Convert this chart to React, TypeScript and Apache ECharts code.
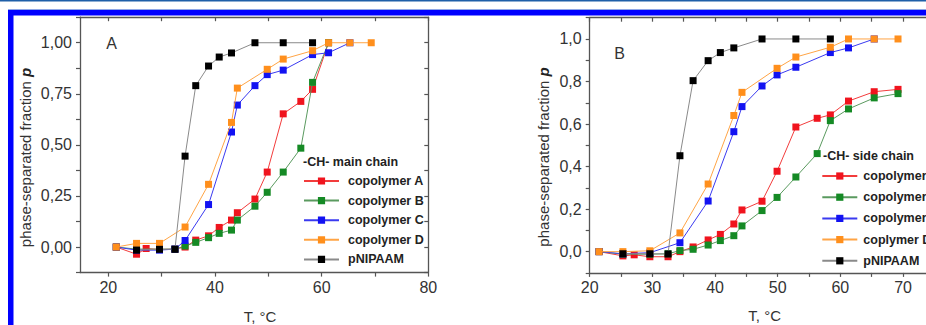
import React, { useEffect, useRef } from 'react';
import * as echarts from 'echarts';

// ---------- data ----------
const NAMES_A = ['copolymer A', 'copolymer B', 'copolymer C', 'copolymer D', 'pNIPAAM'];
const NAMES_B = ['copolymer A', 'copolymer B', 'copolymer C', 'coplymer D', 'pNIPAAM'];

// Panel A: -CH- main chain  [T (°C), p]
const A_copA: [number, number][] = [[21.5, 0], [25.3, -0.035], [27.1, -0.007], [29.6, -0.012], [32.5, -0.01], [34.4, 0.0], [36.4, 0.034], [38.8, 0.055], [40.8, 0.096], [43.1, 0.132], [44.2, 0.168], [47.5, 0.235], [49.8, 0.367], [52.8, 0.652], [56.1, 0.713], [58.3, 0.772], [61.3, 1.0]];
const A_copB: [number, number][] = [[21.5, 0], [25.3, -0.01], [29.6, -0.01], [32.5, -0.01], [34.4, 0.005], [36.4, 0.023], [38.8, 0.046], [40.8, 0.067], [43.1, 0.083], [44.2, 0.132], [47.5, 0.2], [49.8, 0.268], [52.8, 0.367], [56.1, 0.484], [58.3, 0.806], [61.3, 1.0]];
const A_copC: [number, number][] = [[21.5, 0], [25.3, -0.015], [29.6, -0.015], [32.5, -0.01], [34.4, 0.032], [38.8, 0.208], [43.1, 0.563], [44.2, 0.695], [47.5, 0.79], [49.8, 0.844], [52.8, 0.866], [58.3, 0.942], [61.3, 0.951], [65.3, 1.0]];
const A_copD: [number, number][] = [[21.5, 0], [25.3, 0.018], [29.6, 0.018], [34.4, 0.098], [38.8, 0.307], [43.1, 0.61], [44.2, 0.778], [49.8, 0.87], [52.8, 0.92], [58.3, 0.961], [61.3, 1.0], [65.3, 1.0], [69.3, 1.0]];
const A_pnipaam: [number, number][] = [[25.3, -0.015], [29.6, -0.011], [32.5, -0.011], [34.4, 0.445], [36.4, 0.79], [38.8, 0.886], [40.8, 0.93], [43.1, 0.95], [47.5, 1.0], [52.8, 1.0], [58.3, 1.0]];

// Panel B: -CH- side chain
const B_copA: [number, number][] = [[21.5, 0], [25.3, -0.02], [27.1, -0.015], [29.6, -0.024], [32.5, -0.024], [34.4, 0.0], [36.5, 0.022], [38.9, 0.055], [40.85, 0.081], [43.0, 0.13], [44.3, 0.196], [47.5, 0.237], [49.9, 0.378], [52.9, 0.586], [56.3, 0.627], [58.4, 0.643], [61.3, 0.708], [65.4, 0.752], [69.2, 0.763]];
const B_copB: [number, number][] = [[21.5, 0], [25.3, -0.012], [29.6, -0.012], [32.5, -0.01], [34.4, 0.005], [36.5, 0.011], [38.9, 0.031], [40.85, 0.052], [43.0, 0.075], [44.3, 0.121], [47.5, 0.193], [49.9, 0.255], [52.9, 0.351], [56.3, 0.461], [58.4, 0.616], [61.3, 0.671], [65.4, 0.723], [69.2, 0.743]];
const B_copC: [number, number][] = [[21.5, 0], [25.3, -0.01], [29.6, -0.005], [34.4, 0.042], [38.9, 0.238], [43.0, 0.564], [44.3, 0.682], [47.5, 0.779], [49.9, 0.831], [52.9, 0.867], [58.4, 0.936], [61.3, 0.958], [65.4, 1.0]];
const B_copD: [number, number][] = [[21.5, 0], [25.3, 0.0], [29.6, 0.004], [34.4, 0.088], [38.9, 0.318], [43.0, 0.64], [44.3, 0.749], [49.9, 0.862], [52.9, 0.915], [58.4, 0.961], [61.3, 1.0], [65.4, 1.0], [69.2, 1.0]];
const B_pnipaam: [number, number][] = [[25.3, -0.01], [29.6, -0.01], [32.5, -0.011], [34.4, 0.451], [36.5, 0.804], [38.9, 0.898], [40.85, 0.936], [43.0, 0.958], [47.5, 1.0], [52.9, 1.0], [58.4, 1.0]];

// ticks / labels
const A_X_LABELS = [20, 40, 60, 80];
const A_X_TICKS = [20, 30, 40, 50, 60, 70, 80];
const A_Y_LABELS = [0, 0.25, 0.5, 0.75, 1.0];
const A_Y_TICKS = [-0.125, 0, 0.125, 0.25, 0.375, 0.5, 0.625, 0.75, 0.875, 1.0, 1.125];
const B_X_LABELS = [20, 30, 40, 50, 60, 70];
const B_X_TICKS = [20, 25, 30, 35, 40, 45, 50, 55, 60, 65, 70, 75, 80];
const B_Y_LABELS = [0, 0.2, 0.4, 0.6, 0.8, 1.0];
const B_Y_TICKS = [-0.1, 0, 0.1, 0.2, 0.3, 0.4, 0.5, 0.6, 0.7, 0.8, 0.9, 1.0, 1.1];

const FONT = '"Liberation Sans", Arial, sans-serif';
const MARK = ['#f0141e', '#158a25', '#1212f2', '#ff8f1c', '#000000'];
const LINE = ['#f23c3c', '#5a9a5f', '#3a3af0', '#ffa445', '#8a8a8a'];
const AXIS_C = '#555';

function mkSeries(name: string, data: [number, number][], idx: number, axis: number) {
  return {
    type: 'line',
    name,
    data,
    xAxisIndex: axis,
    yAxisIndex: axis,
    symbol: 'rect',
    symbolSize: 7,
    showSymbol: true,
    lineStyle: { width: 1, color: LINE[idx] },
    itemStyle: { color: MARK[idx] },
    z: 2 + idx,
    emphasis: { disabled: true },
  };
}

function xAx(grid: number, min: number, max: number, ticks: number[], labels: number[] | null, top: boolean) {
  return {
    type: 'value',
    gridIndex: grid,
    position: top ? 'top' : 'bottom',
    min,
    max,
    axisLine: { show: true, onZero: false, lineStyle: { color: AXIS_C, width: 1.3 } },
    axisTick: { show: true, inside: top, length: 4, customValues: ticks, lineStyle: { color: AXIS_C, width: 1.2 } },
    axisLabel: labels
      ? { show: true, customValues: labels, margin: 7, fontSize: 16, color: '#333', fontFamily: FONT }
      : { show: false },
    splitLine: { show: false },
  };
}

function yAx(grid: number, min: number, max: number, ticks: number[], labels: number[] | null, right: boolean, dec: number) {
  return {
    type: 'value',
    gridIndex: grid,
    position: right ? 'right' : 'left',
    min,
    max,
    axisLine: { show: true, onZero: false, lineStyle: { color: AXIS_C, width: 1.3 } },
    axisTick: { show: true, inside: right, length: 4, customValues: ticks, lineStyle: { color: AXIS_C, width: 1.2 } },
    axisLabel: labels
      ? {
          show: true,
          customValues: labels,
          margin: 8,
          fontSize: 16,
          color: '#333',
          fontFamily: FONT,
          formatter: (v: number) => v.toFixed(dec).replace('.', ','),
        }
      : { show: false },
    splitLine: { show: false },
  };
}

export default function App() {
  const ref = useRef<HTMLDivElement>(null);
  useEffect(() => {
    if (!ref.current) return;
    const chart = echarts.init(ref.current, null, { renderer: 'svg' });
    const legendText = { fontSize: 12.5, fontWeight: 'bold', color: '#222', fontFamily: FONT, lineHeight: 14 };
    chart.setOption({
      animation: false,
      backgroundColor: '#ffffff',
      grid: [
        { left: 80, top: 17.2, width: 348.3, height: 255.4 },
        { left: 589.7, top: 17.7, width: 376, height: 255.2 },
      ],
      xAxis: [
        xAx(0, 14.7, 80, A_X_TICKS, A_X_LABELS, false),
        xAx(0, 14.7, 80, A_X_TICKS, null, true),
        xAx(1, 20, 80, B_X_TICKS, B_X_LABELS, false),
        xAx(1, 20, 80, B_X_TICKS, null, true),
      ],
      yAxis: [
        yAx(0, -0.125, 1.125, A_Y_TICKS, A_Y_LABELS, false, 2),
        yAx(0, -0.125, 1.125, A_Y_TICKS, null, true, 2),
        yAx(1, -0.1, 1.1, B_Y_TICKS, B_Y_LABELS, false, 1),
        yAx(1, -0.1, 1.1, B_Y_TICKS, null, true, 1),
      ],
      legend: [
        {
          data: NAMES_A,
          orient: 'vertical',
          left: 303,
          top: 174,
          padding: 0,
          itemWidth: 35,
          itemHeight: 9,
          itemGap: 5.6,
          selectedMode: false,
          textStyle: { ...legendText, padding: [0, 0, 0, 4] },
        },
        {
          data: NAMES_B,
          orient: 'vertical',
          left: 821.3,
          top: 169,
          padding: 0,
          itemWidth: 35,
          itemHeight: 9,
          itemGap: 7.2,
          selectedMode: false,
          textStyle: { ...legendText, padding: [0, 0, 0, 1] },
        },
      ],
      series: [
        mkSeries(NAMES_A[0], A_copA, 0, 0),
        mkSeries(NAMES_A[1], A_copB, 1, 0),
        mkSeries(NAMES_A[2], A_copC, 2, 0),
        mkSeries(NAMES_A[3], A_copD, 3, 0),
        mkSeries(NAMES_A[4], A_pnipaam, 4, 0),
        mkSeries(NAMES_B[0], B_copA, 0, 2),
        mkSeries(NAMES_B[1], B_copB, 1, 2),
        mkSeries(NAMES_B[2], B_copC, 2, 2),
        mkSeries(NAMES_B[3], B_copD, 3, 2),
        mkSeries(NAMES_B[4], B_pnipaam, 4, 2),
      ],
      graphic: [
        { type: 'rect', shape: { x: 0, y: 0, width: 1000, height: 1.5 }, style: { fill: '#1f5fa8' }, silent: true },
        { type: 'rect', shape: { x: 8, y: 9, width: 1000, height: 1 }, style: { fill: '#8fa8e8' }, silent: true },
        { type: 'rect', shape: { x: 8, y: 10, width: 1000, height: 5.5 }, style: { fill: '#0000ff' }, silent: true },
        { type: 'rect', shape: { x: 8, y: 10, width: 5.5, height: 320 }, style: { fill: '#0000ff' }, silent: true },
        { type: 'text', x: 111.7, y: 43, style: { text: 'A', fontSize: 16, fontFamily: FONT, fill: '#333', align: 'center', verticalAlign: 'middle' } },
        { type: 'text', x: 619.7, y: 53.3, style: { text: 'B', fontSize: 16, fontFamily: FONT, fill: '#333', align: 'center', verticalAlign: 'middle' } },
        { type: 'text', x: 303, y: 162, style: { text: '-CH- main chain', fontSize: 12.5, fontWeight: 'bold', fontFamily: FONT, fill: '#222', align: 'left', verticalAlign: 'middle' } },
        { type: 'text', x: 823, y: 155.7, style: { text: '-CH- side chain', fontSize: 12.5, fontWeight: 'bold', fontFamily: FONT, fill: '#222', align: 'left', verticalAlign: 'middle' } },
        {
          type: 'text', x: 25, y: 157.5, rotation: Math.PI / 2,
          style: {
            text: 'phase-separated fraction {p|p}', fontSize: 15, fontFamily: FONT, fill: '#333', align: 'center', verticalAlign: 'middle',
            rich: { p: { fontSize: 15, fontWeight: 'bold', fontStyle: 'italic', fontFamily: FONT, fill: '#222' } },
          },
        },
        {
          type: 'text', x: 543, y: 157, rotation: Math.PI / 2,
          style: {
            text: 'phase-separated fraction {p|p}', fontSize: 15, fontFamily: FONT, fill: '#333', align: 'center', verticalAlign: 'middle',
            rich: { p: { fontSize: 15, fontWeight: 'bold', fontStyle: 'italic', fontFamily: FONT, fill: '#222' } },
          },
        },
        { type: 'text', x: 260, y: 316, style: { text: 'T, °C', fontSize: 15, fontFamily: FONT, fill: '#333', align: 'center', verticalAlign: 'middle' } },
        { type: 'text', x: 764.7, y: 315, style: { text: 'T, °C', fontSize: 15, fontFamily: FONT, fill: '#333', align: 'center', verticalAlign: 'middle' } },
      ],
    });
    return () => chart.dispose();
  }, []);
  return (
    <div style={{ position: 'absolute', left: 0, top: 0, width: 926, height: 325, overflow: 'hidden', background: '#fff' }}>
      <div ref={ref} style={{ width: 1000, height: 325 }} />
    </div>
  );
}
